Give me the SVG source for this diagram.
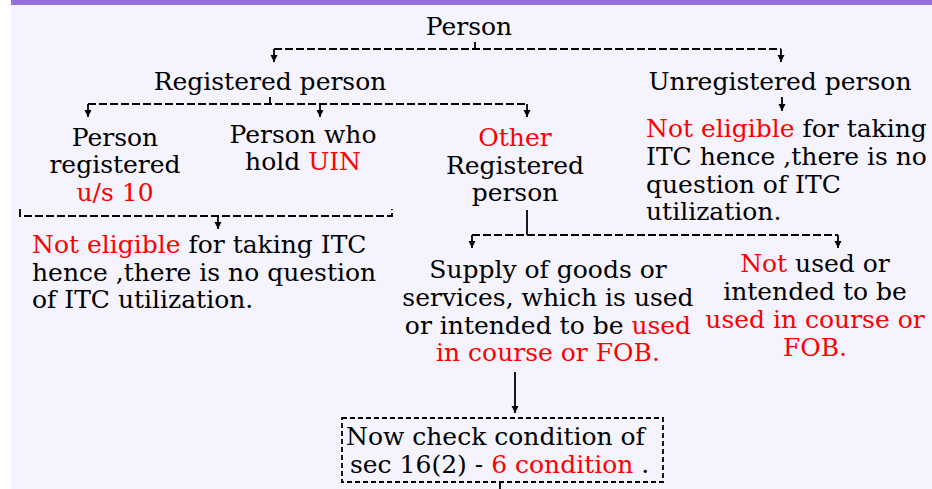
<svg xmlns="http://www.w3.org/2000/svg" width="932" height="489" viewBox="0 0 932 489">
<style>
  text { font-family: "DejaVu Serif", "Liberation Serif", serif; font-size: 25px; fill: #000; }
  .r { fill: #ff0000; }
  .c { text-anchor: middle; }
  .dash { fill: none; stroke: #000; stroke-width: 1.8; stroke-dasharray: 8 3; }
  .solid { fill: none; stroke: #000; stroke-width: 1.8; }
  .arr { fill: none; stroke: #000; stroke-width: 1.8; marker-end: url(#ah); }
  .box { fill: none; stroke: #000; stroke-width: 1.8; stroke-dasharray: 5 3; }
</style>
<defs>
  <marker id="ah" markerUnits="userSpaceOnUse" markerWidth="8" markerHeight="8" refX="7" refY="4" orient="auto" viewBox="0 0 8 8">
    <path d="M0,0.5 L7,4 L0,7.5 Z" fill="#000"/>
  </marker>
</defs>
<rect x="0" y="0" width="932" height="489" fill="#ffffff"/>
<rect x="11" y="0" width="921" height="489" fill="#f5f3fe"/>
<rect x="11" y="0" width="921" height="5" fill="#9370db"/>

<g id="connectors">
  <path class="solid" d="M475,42 V49"/>
  <path class="dash" d="M274,49 H781"/>
  <path class="arr" d="M274,49 V62"/>
  <path class="arr" d="M781,49 V62"/>
  <path class="solid" d="M270,97 V104"/>
  <path class="dash" d="M88,104 H527"/>
  <path class="arr" d="M88,104 V117"/>
  <path class="arr" d="M320,104 V117"/>
  <path class="arr" d="M527,104 V117"/>
  <path class="arr" d="M782,97 V111"/>
  <path class="dash" d="M20,209 V216 H392 V209"/>
  <path class="arr" d="M218,216 V229"/>
  <path class="solid" d="M527,210 V235"/>
  <path class="dash" d="M472,235 H838"/>
  <path class="arr" d="M472,235 V248"/>
  <path class="arr" d="M838,235 V248"/>
  <path class="arr" d="M515,372 V413"/>
  <path class="solid" d="M500,482 V489"/>
</g>

<g id="person"><text class="c" x="469" y="35">Person</text></g>
<g id="registered"><text class="c" x="270" y="90">Registered person</text></g>
<g id="unregistered"><text class="c" x="780" y="90">Unregistered person</text></g>
<g id="unreg-note">
  <text x="646" y="137"><tspan class="r">Not eligible</tspan> for taking</text>
  <text x="646" y="165">ITC hence ,there is no</text>
  <text x="646" y="193">question of ITC</text>
  <text x="646" y="220">utilization.</text>
</g>
<g id="reg-u10">
  <text class="c" x="115" y="146">Person</text>
  <text class="c" x="115" y="173">registered</text>
  <text class="c r" x="115" y="201">u/s 10</text>
</g>
<g id="uin">
  <text class="c" x="303" y="143">Person who</text>
  <text class="c" x="303" y="170">hold <tspan class="r">UIN</tspan></text>
</g>
<g id="other">
  <text class="c r" x="515" y="146">Other</text>
  <text class="c" x="515" y="174">Registered</text>
  <text class="c" x="515" y="201">person</text>
</g>
<g id="left-note">
  <text x="32" y="253"><tspan class="r">Not eligible</tspan> for taking ITC</text>
  <text x="32" y="281">hence ,there is no question</text>
  <text x="32" y="308">of ITC utilization.</text>
</g>
<g id="supply">
  <text class="c" x="548" y="278">Supply of goods or</text>
  <text class="c" x="548" y="306">services, which is used</text>
  <text class="c" x="548" y="334">or intended to be <tspan class="r">used</tspan></text>
  <text class="c r" x="548" y="361">in course or FOB.</text>
</g>
<g id="not-used">
  <text class="c" x="815" y="272"><tspan class="r">Not</tspan> used or</text>
  <text class="c" x="815" y="300">intended to be</text>
  <text class="c r" x="815" y="328">used in course or</text>
  <text class="c r" x="815" y="356">FOB.</text>
</g>
<g id="check">
  <rect class="box" x="342" y="418" width="321" height="64"/>
  <text x="346" y="445">Now check condition of</text>
  <text x="350" y="473">sec 16(2) - <tspan class="r">6 condition</tspan> .</text>
</g>
</svg>
